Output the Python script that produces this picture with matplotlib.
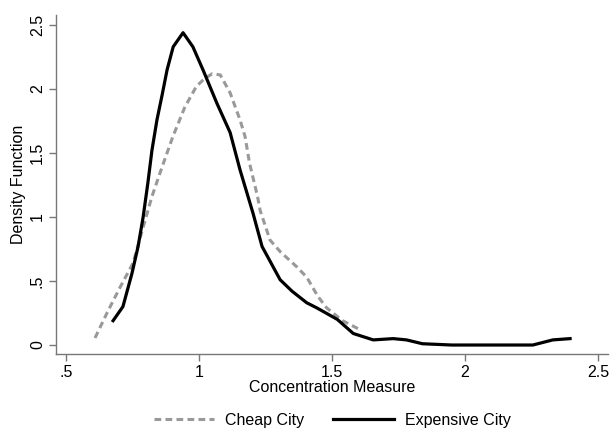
import matplotlib
matplotlib.use("Agg")
import matplotlib.pyplot as plt

plt.rcParams['font.family'] = ['Liberation Sans', 'DejaVu Sans']

# density estimates
cheap_x = [0.609, 0.654, 0.703, 0.752, 0.79, 0.823, 0.861, 0.902, 0.947, 0.99, 1.02,
           1.05, 1.08, 1.117, 1.154, 1.173, 1.19, 1.22, 1.23, 1.267, 1.305, 1.368,
           1.405, 1.447, 1.48, 1.54, 1.605]
cheap_y = [0.055, 0.25, 0.45, 0.64, 0.92, 1.16, 1.39, 1.63, 1.86, 2.02, 2.08,
           2.12, 2.11, 1.97, 1.76, 1.63, 1.42, 1.16, 1.05, 0.82, 0.73, 0.61,
           0.53, 0.38, 0.29, 0.19, 0.12]

exp_x = [0.677, 0.714, 0.748, 0.771, 0.79, 0.808, 0.823, 0.842, 0.861, 0.88, 0.903,
         0.94, 0.977, 1.015, 1.067, 1.117, 1.154, 1.203, 1.237, 1.305, 1.35, 1.405,
         1.443, 1.52, 1.58, 1.655, 1.73, 1.78, 1.84, 1.95, 2.1, 2.255, 2.33, 2.395]
exp_y = [0.19, 0.30, 0.56, 0.77, 1.0, 1.27, 1.52, 1.76, 1.95, 2.15, 2.33,
         2.44, 2.33, 2.15, 1.89, 1.66, 1.37, 1.03, 0.77, 0.51, 0.42, 0.33,
         0.29, 0.20, 0.09, 0.04, 0.05, 0.04, 0.01, 0.0, 0.0, 0.0, 0.04, 0.05]

xticks = [0.5, 1, 1.5, 2, 2.5]
xtick_labels = [".5", "1", "1.5", "2", "2.5"]
yticks = [0, 0.5, 1, 1.5, 2, 2.5]
ytick_labels = ["0", ".5", "1", "1.5", "2", "2.5"]

fig = plt.figure(figsize=(6.12, 4.30), dpi=100)
ax = fig.add_axes([0.0915, 0.1767, 0.902, 0.7883])

ax.plot(cheap_x, cheap_y, color='#999999', lw=2.2, ls=(0, (2.2, 1.4)), label='Cheap City')
ax.plot(exp_x, exp_y, color='black', lw=2.3, label='Expensive City')

ax.set_xlim(0.4624, 2.5376)
ax.set_ylim(-0.0703, 2.578)
ax.set_xticks(xticks)
ax.set_xticklabels(xtick_labels)
ax.set_yticks(yticks)
ax.set_yticklabels(ytick_labels, rotation=90, va='center')

for s in ['top', 'right']:
    ax.spines[s].set_visible(False)
for s in ['left', 'bottom']:
    ax.spines[s].set_color('#777777')
    ax.spines[s].set_linewidth(1.0)
ax.tick_params(colors='#777777', labelcolor='black', length=5, width=1.0,
               labelsize=11.5, pad=3)

ax.set_xlabel("Concentration Measure", fontsize=11.5, labelpad=0)
ax.set_ylabel("Density Function", fontsize=11.5, labelpad=3)

fig.legend(loc='lower center', bbox_to_anchor=(0.543, -0.028), ncol=2, frameon=False,
           fontsize=11.5, handlelength=3.8, columnspacing=1.8, handletextpad=0.7)

fig.savefig("out.png", dpi=100)
